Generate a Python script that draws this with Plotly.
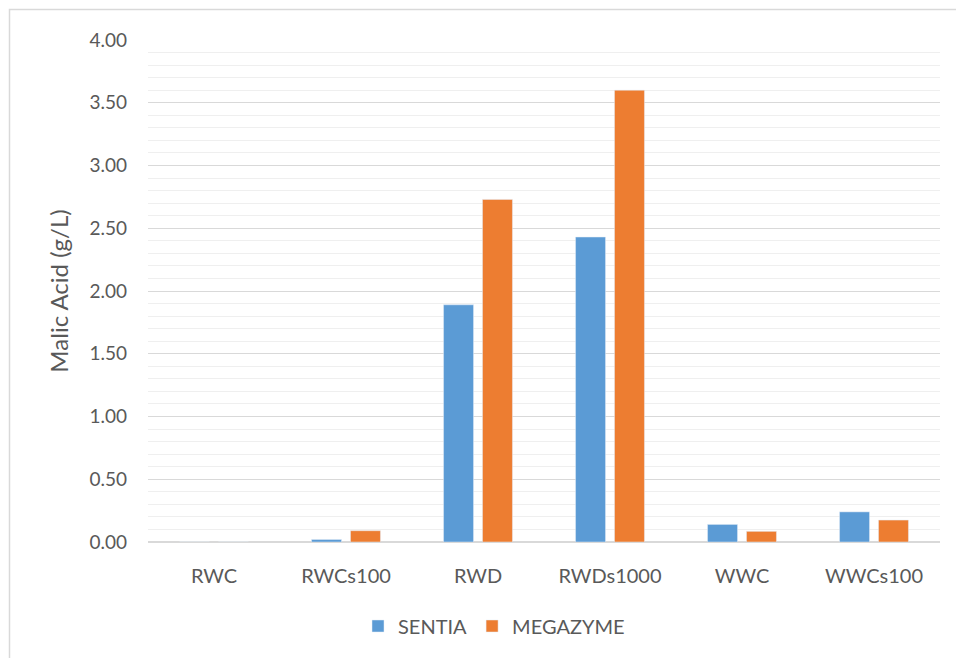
import plotly.graph_objects as go

# Samples and malic acid readings (g/L) by method
samples = ["RWC", "RWCs100", "RWD", "RWDs1000", "WWC", "WWCs100"]
sentia = [0.0, 0.02, 1.89, 2.43, 0.14, 0.24]
megazyme = [0.0, 0.09, 2.73, 3.60, 0.085, 0.175]

y_ticks = [0, 0.5, 1, 1.5, 2, 2.5, 3, 3.5, 4]
y_tick_text = [f"{v:.2f}" for v in y_ticks]

FONT = "Lato, Carlito, Calibri, sans-serif"
TXT = "#595959"

fig = go.Figure()
fig.add_trace(go.Bar(name="SENTIA", x=samples, y=sentia, marker_color="#5B9BD5"))
fig.add_trace(go.Bar(name="MEGAZYME", x=samples, y=megazyme, marker_color="#ED7D31"))

# plot area geometry (px) used to place the outer chart frame
L, R, T, B = 148, 16, 40, 116
W, H = 956, 658
pw, ph = W - L - R, H - T - B

fig.update_layout(
    width=W, height=H,
    margin=dict(l=L, r=R, t=T, b=B),
    paper_bgcolor="white", plot_bgcolor="white",
    barmode="group", bargap=0.41, bargroupgap=0.23,
    font=dict(family=FONT, size=20, color=TXT),
    showlegend=True,
    legend=dict(orientation="h", x=(494 - L) / pw, xanchor="center",
                y=(T + ph - 626) / ph, yanchor="middle",
                font=dict(family=FONT, size=20, color=TXT), itemwidth=30,
                traceorder="normal"),
    shapes=[dict(type="rect", xref="paper", yref="paper",
                 x0=(9.5 - L) / pw, x1=(W + 5 - L) / pw,
                 y0=(T + ph - (H + 5)) / ph, y1=1 + (T - 9.5) / ph,
                 line=dict(color="#d9d9d9", width=1.5), layer="below")],
)

fig.update_xaxes(
    showgrid=False, showline=False, zeroline=False,
    ticks="", ticklabelstandoff=20,
    tickfont=dict(family=FONT, size=20, color=TXT),
)
fig.update_yaxes(
    range=[0, 4.0], tickvals=y_ticks, ticktext=y_tick_text,
    showgrid=True, gridcolor="#d9d9d9", gridwidth=1,
    minor=dict(dtick=0.1, showgrid=True, gridcolor="#efefef", gridwidth=1),
    zeroline=True, zerolinecolor="#d9d9d9", zerolinewidth=2,
    showline=False, ticks="", ticklabelstandoff=20,
    tickfont=dict(family=FONT, size=19, color=TXT),
    title=dict(text="Malic Acid (g/L)", standoff=14),
    title_font=dict(family=FONT, size=24, color=TXT),
)

fig.write_html("out.html")
